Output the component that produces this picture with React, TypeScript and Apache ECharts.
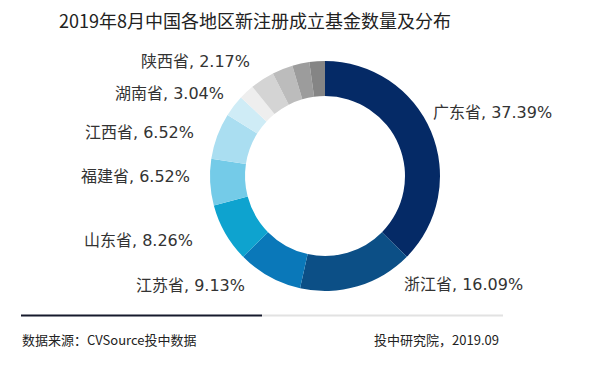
import React, { useEffect, useRef } from "react";
import * as echarts from "echarts";

const TITLE = "2019年8月中国各地区新注册成立基金数量及分布";
const SOURCE = "数据来源：CVSource投中数据";
const CREDIT = "投中研究院，2019.09";

const provinces = ["广东省", "浙江省", "江苏省", "山东省", "福建省", "江西省", "湖南省", "陕西省", "其他1", "其他2", "其他3", "其他4"];
const shares = [37.39, 16.09, 9.13, 8.26, 6.52, 6.52, 3.04, 2.17, 3.4, 2.9, 2.4, 2.18];
const labelled = [true, true, true, true, true, true, true, true, false, false, false, false];
const colors = ["#052a66", "#0c4f86", "#0a78b9", "#0ea3cf", "#74cbe8", "#aadef1", "#cfecf6", "#eeeeee", "#d4d4d4", "#bcbcbc", "#9c9c9c", "#858585"];
// label anchor positions (layout only): [x, y, align]
const labelPos: [number, number, string][] = [
  [433, 112, "left"],
  [404, 284, "left"],
  [245, 285, "right"],
  [193, 240, "right"],
  [190, 176, "right"],
  [194, 132, "right"],
  [224, 93, "right"],
  [250, 61, "right"],
];

export default function App() {
  const ref = useRef<HTMLDivElement>(null);
  useEffect(() => {
    if (!ref.current) return;
    const chart = echarts.init(ref.current, null, { renderer: "svg" });
    const font = '"Noto Sans CJK SC", "Noto Sans", sans-serif';
    const labelFont = '"DejaVu Sans", "Noto Sans CJK SC", sans-serif';
    chart.setOption({
      animation: false,
      backgroundColor: "#ffffff",
      textStyle: { fontFamily: font },
      title: {
        text: TITLE,
        left: 250,
        top: 6,
        textAlign: "center",
        textStyle: { fontSize: 18, fontWeight: "normal", color: "#222222", fontFamily: font },
      },
      series: [
        {
          type: "pie",
          center: [325, 176],
          radius: [80, 115],
          startAngle: 90,
          clockwise: true,
          avoidLabelOverlap: false,
          labelLine: { show: false },
          label: {
            show: true,
            position: "outside",
            formatter: (p: any) => `${p.name}, ${p.value.toFixed(2)}%`,
            fontSize: 16,
            color: "#333333",
            fontFamily: labelFont,
          },
          labelLayout: (params: any) => {
            const lp = labelPos[params.dataIndex];
            if (!lp) return {};
            return { x: lp[0], y: lp[1], align: lp[2], verticalAlign: "middle" };
          },
          emphasis: { disabled: true },
          data: provinces.map((name, i) => ({
            name,
            value: shares[i],
            itemStyle: { color: colors[i] },
            label: { show: labelled[i] },
          })),
        },
      ],
      graphic: [
        { type: "line", shape: { x1: 21, y1: 315.5, x2: 262, y2: 315.5 }, style: { stroke: "#161a2c", lineWidth: 2 } },
        { type: "line", shape: { x1: 262, y1: 315.5, x2: 503, y2: 315.5 }, style: { stroke: "#e2e2e2", lineWidth: 2 } },
        {
          type: "text",
          x: 22,
          y: 339,
          style: { text: SOURCE, fontSize: 13, fill: "#222222", fontFamily: font, verticalAlign: "middle", align: "left" },
        },
        {
          type: "text",
          x: 499,
          y: 339,
          style: { text: CREDIT, fontSize: 13, fill: "#222222", fontFamily: font, verticalAlign: "middle", align: "right" },
        },
      ],
    });
    return () => chart.dispose();
  }, []);
  return <div ref={ref} style={{ position: "absolute", left: 0, top: 0, width: 610, height: 366 }} />;
}
